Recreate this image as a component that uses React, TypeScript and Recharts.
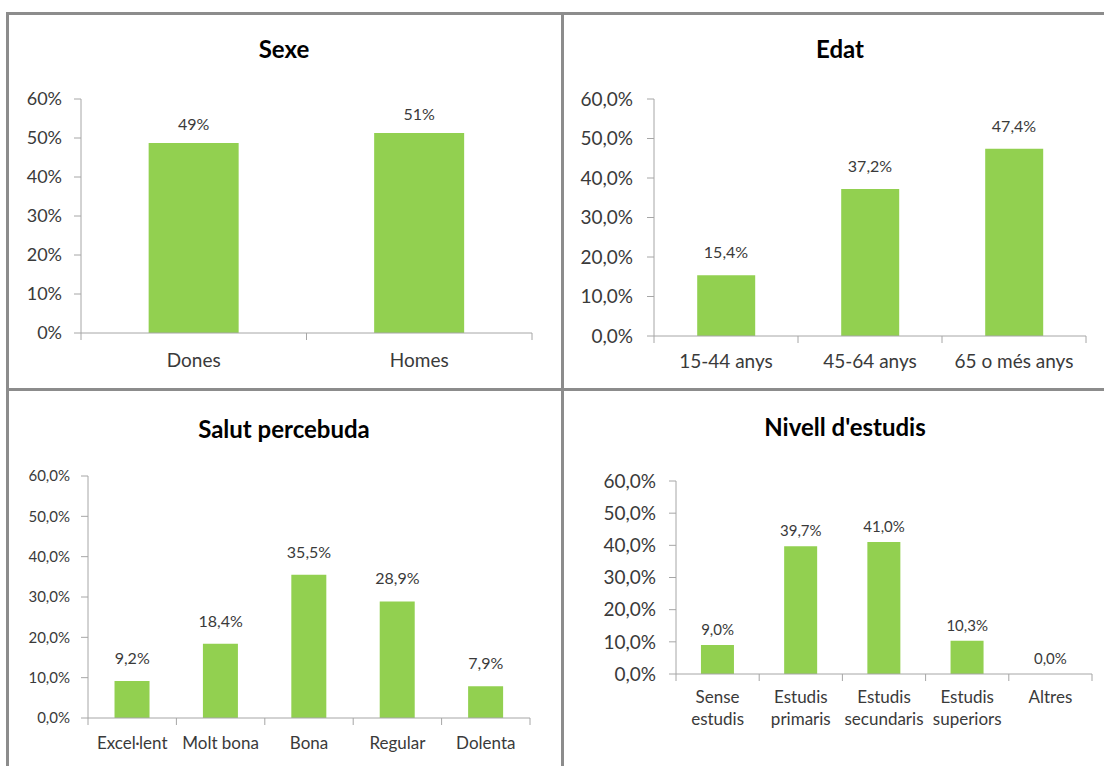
import { ComposedChart, Bar, Line, XAxis, YAxis, LabelList } from 'recharts';

const FONT = 'Lato, "Open Sans", sans-serif';
const GREEN = '#92d050';
const AXIS = '#a6a6a6';
const TEXT = '#3a3a3a';
const BORDER = '#8c8c8c';

const sexeCats = ['Dones', 'Homes'];
const sexeVals = [48.7, 51.3];

const edatCats = ['15-44 anys', '45-64 anys', '65 o més anys'];
const edatVals = [15.4, 37.2, 47.4];

const salutCats = ['Excel·lent', 'Molt bona', 'Bona', 'Regular', 'Dolenta'];
const salutVals = [9.2, 18.4, 35.5, 28.9, 7.9];

const estudisCats = ['Sense estudis', 'Estudis primaris', 'Estudis secundaris', 'Estudis superiors', 'Altres'];
const estudisVals = [9.0, 39.7, 41.0, 10.3, 0.0];

const yTicks = [0, 10, 20, 30, 40, 50, 60];

const pct0 = (v: number) => `${Math.round(v)}%`;
const pct1 = (v: number) => `${Number(v).toFixed(1).replace('.', ',')}%`;

function CatTick(props: any) {
  const { x, y, payload, index, count, half, gap, fontSize, wrap } = props;
  const lines = wrap ? String(payload.value).split(' ') : [String(payload.value)];
  return (
    <g>
      <line x1={x - half} y1={y} x2={x - half} y2={y + 7} stroke={AXIS} />
      {index === count - 1 && <line x1={x + half} y1={y} x2={x + half} y2={y + 7} stroke={AXIS} />}
      <text x={x} y={y + gap} textAnchor="middle" fontSize={fontSize} fill={TEXT} fontFamily={FONT}>
        {lines.map((l: string, i: number) => (
          <tspan key={i} x={x} dy={i === 0 ? '0.71em' : '1.3em'}>{l}</tspan>
        ))}
      </text>
    </g>
  );
}

interface PanelProps {
  title: string;
  cats: string[];
  vals: number[];
  left: number;
  top: number;
  width: number;
  height: number;
  margin: { top: number; right: number; bottom: number; left: number };
  yWidth: number;
  xHeight: number;
  yFont: number;
  yGap: number;
  xFont: number;
  xGap: number;
  valFont: number;
  valOffset: number;
  fmt: (v: number) => string;
  wrap?: boolean;
  titleX: number;
  titleY: number;
}

function Panel(p: PanelProps) {
  const data = p.cats.map((c, i) => ({ name: c, v: p.vals[i] }));
  const plotW = p.width - p.margin.left - p.margin.right - p.yWidth;
  const half = plotW / p.cats.length / 2;
  return (
    <>
      <div
        style={{
          position: 'absolute',
          left: p.titleX - 200,
          top: p.titleY - 15,
          width: 400,
          height: 30,
          lineHeight: '30px',
          textAlign: 'center',
          fontFamily: FONT,
          fontWeight: 700,
          fontSize: 24,
          color: '#000',
        }}
      >
        {p.title}
      </div>
      <div style={{ position: 'absolute', left: p.left, top: p.top }}>
        <ComposedChart
          width={p.width}
          height={p.height}
          data={data}
          margin={p.margin}
          barCategoryGap="30%"
          style={{ fontFamily: FONT }}
        >
          <XAxis
            dataKey="name"
            height={p.xHeight}
            interval={0}
            tickLine={false}
            tickSize={0}
            tickMargin={0}
            axisLine={{ stroke: AXIS }}
            tick={(tp: any) => (
              <CatTick {...tp} count={p.cats.length} half={half} gap={p.xGap} fontSize={p.xFont} wrap={p.wrap} />
            )}
          />
          <YAxis
            width={p.yWidth}
            domain={[0, 60]}
            ticks={yTicks}
            interval={0}
            tickSize={7}
            tickMargin={p.yGap}
            axisLine={{ stroke: AXIS }}
            tickLine={{ stroke: AXIS }}
            tick={{ fill: TEXT, fontSize: p.yFont, fontFamily: FONT }}
            tickFormatter={p.fmt}
          />
          <Bar dataKey="v" fill={GREEN} isAnimationActive={false} />
          <Line
            dataKey="v"
            stroke="none"
            dot={false}
            activeDot={false}
            legendType="none"
            isAnimationActive={false}
          >
            <LabelList
              dataKey="v"
              position="top"
              offset={p.valOffset}
              formatter={(v: any) => p.fmt(Number(v))}
              fill={TEXT}
              fontSize={p.valFont}
              fontFamily={FONT}
            />
          </Line>
        </ComposedChart>
      </div>
    </>
  );
}

export default function App() {
  return (
    <div
      style={{
        position: 'absolute',
        left: 0,
        top: 0,
        width: 1104,
        height: 766,
        overflow: 'hidden',
        background: '#fff',
      }}
    >
      <div style={{ position: 'absolute', left: 6, top: 12, width: 1098, height: 3, background: BORDER }} />
      <div style={{ position: 'absolute', left: 6, top: 388, width: 1098, height: 3, background: BORDER }} />
      <div style={{ position: 'absolute', left: 6, top: 12, width: 3, height: 754, background: BORDER }} />
      <div style={{ position: 'absolute', left: 561, top: 12, width: 3, height: 754, background: BORDER }} />

      <Panel
        title="Sexe"
        cats={sexeCats}
        vals={sexeVals}
        left={9}
        top={15}
        width={552}
        height={373}
        margin={{ top: 84, right: 29, bottom: 15, left: 12 }}
        yWidth={60}
        xHeight={40}
        yFont={18}
        yGap={12}
        xFont={19}
        xGap={21}
        valFont={16}
        valOffset={13}
        fmt={pct0}
        titleX={284}
        titleY={49}
      />
      <Panel
        title="Edat"
        cats={edatCats}
        vals={edatVals}
        left={564}
        top={15}
        width={540}
        height={373}
        margin={{ top: 84, right: 18, bottom: 12, left: 30 }}
        yWidth={60}
        xHeight={40}
        yFont={19}
        yGap={14}
        xFont={19}
        xGap={19}
        valFont={16}
        valOffset={17}
        fmt={pct1}
        titleX={840}
        titleY={49}
      />
      <Panel
        title="Salut percebuda"
        cats={salutCats}
        vals={salutVals}
        left={9}
        top={391}
        width={552}
        height={375}
        margin={{ top: 85, right: 31, bottom: 12, left: 19 }}
        yWidth={60}
        xHeight={36}
        yFont={15}
        yGap={11}
        xFont={17}
        xGap={19}
        valFont={16}
        valOffset={17}
        fmt={pct1}
        titleX={284}
        titleY={429}
      />
      <Panel
        title="Nivell d'estudis"
        cats={estudisCats}
        vals={estudisVals}
        left={564}
        top={391}
        width={540}
        height={375}
        margin={{ top: 90, right: 12, bottom: 32, left: 52 }}
        yWidth={60}
        xHeight={60}
        yFont={19}
        yGap={13}
        xFont={17}
        xGap={17}
        valFont={15}
        valOffset={10}
        fmt={pct1}
        wrap
        titleX={845}
        titleY={427}
      />
    </div>
  );
}
